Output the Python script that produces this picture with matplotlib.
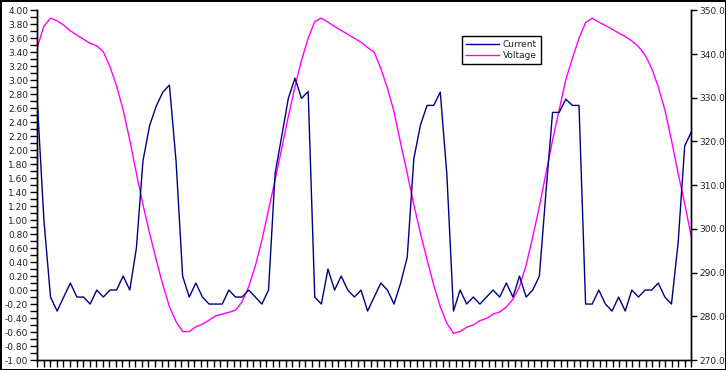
import numpy as np
import matplotlib
matplotlib.use('Agg')
import matplotlib.pyplot as plt
from matplotlib.ticker import MultipleLocator, FormatStrFormatter, FixedLocator, NullFormatter

current = [2.7, 1.0, -0.1, -0.3, -0.1, 0.1, -0.1, -0.1, -0.2, 0.0,
           -0.1, 0.0, 0.0, 0.2, 0.0, 0.6, 1.85, 2.35, 2.63, 2.83,
           2.93, 1.85, 0.2, -0.1, 0.1, -0.1, -0.2, -0.2, -0.2, 0.0,
           -0.1, -0.1, 0.0, -0.1, -0.2, 0.0, 1.67, 2.2, 2.74, 3.03,
           2.74, 2.84, -0.1, -0.2, 0.3, 0.0, 0.2, 0.0, -0.1, 0.0,
           -0.3, -0.1, 0.1, 0.0, -0.2, 0.1, 0.47, 1.88, 2.36, 2.64,
           2.64, 2.83, 1.65, -0.3, 0.0, -0.2, -0.1, -0.2, -0.1, 0.0,
           -0.1, 0.1, -0.1, 0.2, -0.1, 0.0, 0.2, 1.4, 2.54, 2.54,
           2.73, 2.64, 2.64, -0.2, -0.2, 0.0, -0.2, -0.3, -0.1, -0.3,
           0.0, -0.1, 0.0, 0.0, 0.1, -0.1, -0.2, 0.67, 2.06, 2.26]

voltage = [341.5, 346.4, 348.2, 347.6, 346.6, 345.3, 344.3, 343.4, 342.4, 341.9,
           340.5, 337.1, 332.7, 327.2, 320.3, 312.7, 305.5, 299.0, 292.9, 287.2,
           282.2, 278.8, 276.5, 276.5, 277.6, 278.2, 279.1, 280.1, 280.5, 280.9,
           281.4, 283.3, 286.8, 291.5, 297.4, 304.3, 311.2, 318.4, 325.7, 332.5,
           338.6, 343.6, 347.4, 348.2, 347.3, 346.3, 345.4, 344.5, 343.6, 342.7,
           341.5, 340.4, 336.7, 332.2, 326.8, 319.6, 312.7, 305.5, 299.0, 292.9,
           287.2, 282.2, 278.4, 276.1, 276.5, 277.5, 278.0, 279.0, 279.5, 280.5,
           281.0, 282.1, 283.9, 286.8, 291.7, 298.2, 305.1, 312.7, 320.3, 327.2,
           334.1, 339.0, 343.6, 347.2, 348.2, 347.3, 346.5, 345.7, 344.8, 344.0,
           343.0, 341.7, 339.8, 336.7, 332.5, 327.2, 320.3, 312.7, 305.8, 298.2]

x = np.arange(len(current))
txt = '#222222'

fig = plt.figure(figsize=(7.26, 3.70), dpi=100)
fig.patch.set_facecolor('white')
fig.patch.set_edgecolor('black')
fig.patch.set_linewidth(1.0)

ax = fig.add_axes([37.3/726, 10/370, (691.3-37.3)/726, 349.7/370])
ax2 = ax.twinx()

l1, = ax.plot(x, current, color='#000080', lw=1.0, label='Current', zorder=3)
l2, = ax2.plot(x, voltage, color='#ff00ff', lw=1.0, label='Voltage')
ax.set_zorder(ax2.get_zorder() + 1)
ax.patch.set_visible(False)

ax.set_xlim(0, len(current) - 1)
ax.set_ylim(-1, 4)
ax2.set_ylim(270, 350)

ax.xaxis.set_major_locator(FixedLocator(np.linspace(0, len(current) - 1, 101)))
ax.xaxis.set_major_formatter(NullFormatter())
ax.yaxis.set_major_locator(MultipleLocator(0.2))
ax.yaxis.set_minor_locator(MultipleLocator(0.1))
ax.yaxis.set_major_formatter(FormatStrFormatter('%.2f'))
ax2.yaxis.set_major_locator(MultipleLocator(10))
ax2.yaxis.set_major_formatter(FormatStrFormatter('%.1f'))

ax.tick_params(axis='x', direction='out', length=5, width=1, color='black')
ax.tick_params(axis='y', which='both', direction='out', length=5, width=1,
               labelsize=6.5, pad=1.5, labelcolor=txt)
ax2.tick_params(axis='y', direction='out', length=4, width=1,
                labelsize=6.5, pad=1.5, labelcolor=txt)

for a in (ax, ax2):
    a.spines['top'].set_visible(False)
    for s in ('left', 'right', 'bottom'):
        a.spines[s].set_linewidth(1)
        a.spines[s].set_color('black')

leg = fig.legend([l1, l2], ['Current', 'Voltage'], loc='upper left',
                 bbox_to_anchor=(462/726, 1 - 36/370), bbox_transform=fig.transFigure,
                 fontsize=6.5, frameon=True, fancybox=False, framealpha=1,
                 edgecolor='black', handlelength=3.6, handletextpad=0.45,
                 labelspacing=0.25, borderpad=0.45, borderaxespad=0)
leg.get_frame().set_linewidth(1)
for t in leg.get_texts():
    t.set_color(txt)

fig.savefig('out.png', dpi=100, edgecolor=fig.get_edgecolor())
